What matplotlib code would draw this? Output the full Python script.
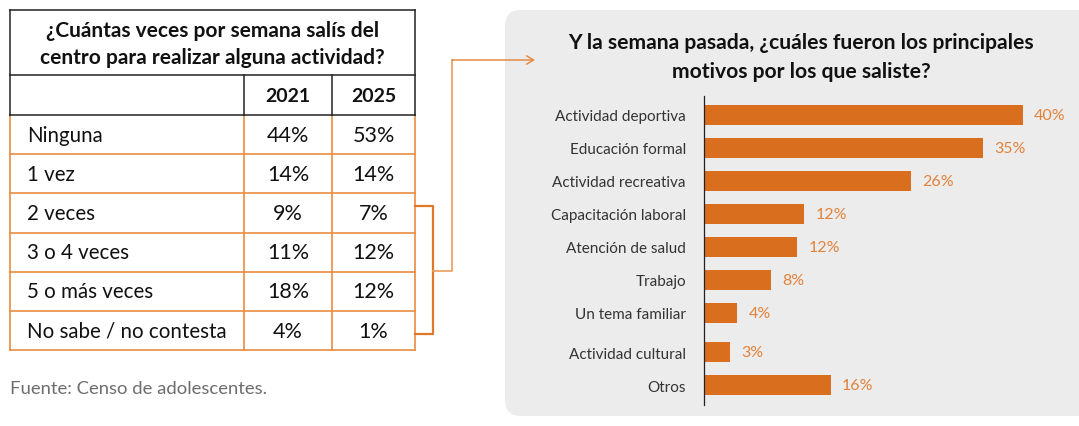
import numpy as np
import matplotlib.pyplot as plt
from matplotlib.patches import FancyBboxPatch

plt.rcParams['font.family'] = ['Lato', 'DejaVu Sans']

# ---------------- DATA: TABLE (left)
tabla_titulo = ['¿Cuántas veces por semana salís del', 'centro para realizar alguna actividad?']
anios = ['2021', '2025']
frecuencias = ['Ninguna', '1 vez', '2 veces', '3 o 4 veces', '5 o más veces', 'No sabe / no contesta']
pct_2021 = [44, 14, 9, 11, 18, 4]
pct_2025 = [53, 14, 7, 12, 12, 1]
fuente = 'Fuente: Censo de adolescentes.'

# ---------------- DATA: BARS (right)
barras_titulo = ['Y la semana pasada, ¿cuáles fueron los principales', 'motivos por los que saliste?']
motivos = ['Actividad deportiva', 'Educación formal', 'Actividad recreativa', 'Capacitación laboral',
           'Atención de salud', 'Trabajo', 'Un tema familiar', 'Actividad cultural', 'Otros']
motivos_pct = [40.0, 35.0, 26.0, 12.6, 11.7, 8.4, 4.2, 3.3, 15.9]
motivos_txt = ['40%', '35%', '26%', '12%', '12%', '8%', '4%', '3%', '16%']

# ---------------- COLORS
NARANJA = '#D96E1F'
NARANJA_TXT = '#E2823A'
NARANJA_TABLA = '#E98C42'
NARANJA_LINEA = '#EC9C5C'
GRIS_PANEL = '#ECECEC'

W, H = 1079, 427
fig = plt.figure(figsize=(W / 100, H / 100), dpi=100)

# full-figure axes in pixel coords
bg = fig.add_axes([0, 0, 1, 1])
bg.set_xlim(0, W)
bg.set_ylim(H, 0)
bg.axis('off')

# grey panel behind bar chart
panel = FancyBboxPatch((505, 11), 620, 406, boxstyle='round,pad=0,rounding_size=16',
                       fc=GRIS_PANEL, ec='none', zorder=0)
bg.add_patch(panel)

# ---------------- TABLE
x_l, x_c1, x_c2, x_r = 10, 244, 332, 415
y_top, y_tit, y_hdr = 11, 76, 116
row_h = 39.2
edges = [y_hdr + row_h * i for i in range(len(frecuencias) + 1)]

# orange body grid
for y in edges[1:]:
    bg.plot([x_l, x_r], [y, y], color=NARANJA_TABLA, lw=1.2, solid_capstyle='projecting')
for x in [x_l, x_c1, x_c2, x_r]:
    bg.plot([x, x], [edges[0], edges[-1]], color=NARANJA_TABLA, lw=1.2, solid_capstyle='projecting')

# black title + header boxes
for y in [y_top, y_tit, y_hdr]:
    bg.plot([x_l, x_r], [y, y], color='#222222', lw=1.1, solid_capstyle='projecting')
for x in [x_l, x_r]:
    bg.plot([x, x], [y_top, y_hdr], color='#222222', lw=1.1)
for x in [x_c1, x_c2]:
    bg.plot([x, x], [y_tit, y_hdr], color='#222222', lw=1.1)

cx = (x_l + x_r) / 2
bg.text(cx, 31, tabla_titulo[0], ha='center', va='center', fontsize=15, fontweight='bold', color='#111111')
bg.text(cx, 58, tabla_titulo[1], ha='center', va='center', fontsize=15, fontweight='bold', color='#111111')

col_c = [(x_c1 + x_c2) / 2, (x_c2 + x_r) / 2]
for c, a in zip(col_c, anios):
    bg.text(c, 97, a, ha='center', va='center', fontsize=14, fontweight='bold', color='#111111')

for i, lab in enumerate(frecuencias):
    yc = (edges[i] + edges[i + 1]) / 2
    bg.text(27, yc, lab, ha='left', va='center', fontsize=14.8, color='#111111')
    bg.text(col_c[0], yc, f'{pct_2021[i]}%', ha='center', va='center', fontsize=15.5, color='#111111')
    bg.text(col_c[1], yc, f'{pct_2025[i]}%', ha='center', va='center', fontsize=15.5, color='#111111')

bg.text(10, 389, fuente, ha='left', va='center', fontsize=13.3, color='#6d6d6d')

# ---------------- CONNECTORS
bg.plot([x_r, 433, 433, x_r], [207, 207, 335, 335], color='#E07828', lw=1.6)
bg.plot([433, 452, 452], [272, 272, 61], color=NARANJA_LINEA, lw=1.2)
bg.annotate('', xy=(535, 61), xytext=(452, 61),
            arrowprops=dict(arrowstyle='->,head_length=0.5,head_width=0.3', color='#E58A45',
                            lw=1.1, shrinkA=0, shrinkB=0))

# ---------------- BAR CHART
bg.text(801, 43, barras_titulo[0], ha='center', va='center', fontsize=15.2, fontweight='bold', color='#111111')
bg.text(801, 72, barras_titulo[1], ha='center', va='center', fontsize=15.2, fontweight='bold', color='#111111')

px_per_unit = (1023 - 704) / 40
x_max = 45
ax_top, ax_bot = 97, 406
ax = fig.add_axes([704 / W, (H - ax_bot) / H, x_max * px_per_unit / W, (ax_bot - ax_top) / H])
ax.set_facecolor('none')

n = len(motivos)
idx = np.arange(n)
ypos = idx + np.where(idx >= 7, 0.2, 0.0)
ax.barh(ypos, motivos_pct, height=0.6, color=NARANJA)
ax.set_xlim(0, x_max)
ax.set_ylim(8.8, -0.567)
ax.set_yticks(ypos)
ax.set_yticklabels(motivos)
ax.set_xticks([])
ax.tick_params(axis='y', length=0, pad=13, labelsize=11, labelcolor='#333333')
for s in ['top', 'right', 'bottom']:
    ax.spines[s].set_visible(False)
ax.spines['left'].set_color('#222222')
ax.spines['left'].set_linewidth(0.9)

for y, v, t in zip(ypos, motivos_pct, motivos_txt):
    ax.text(v + 11 / px_per_unit, y, t, ha='left', va='center', fontsize=11.5, color=NARANJA_TXT, clip_on=False)

fig.savefig('out.png', dpi=100)
print('OK')
